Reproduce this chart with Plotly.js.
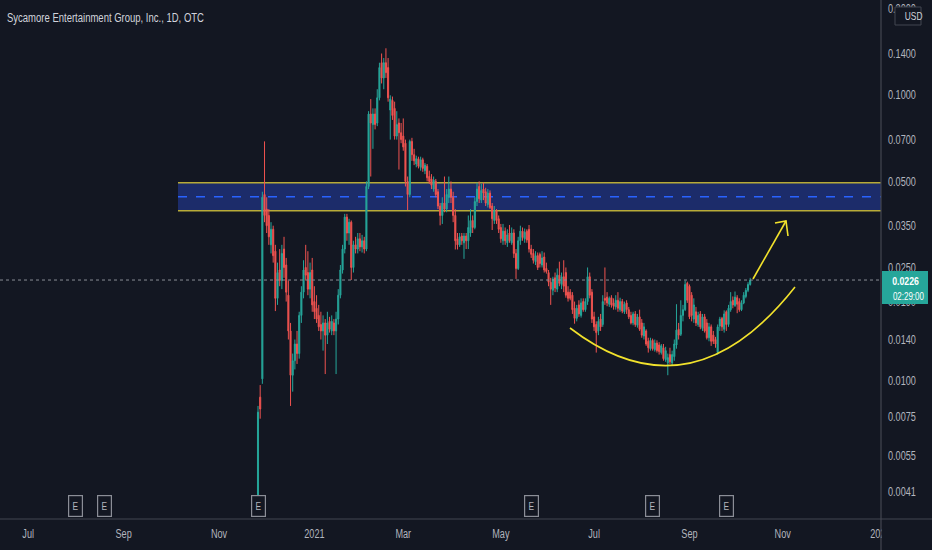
<!DOCTYPE html>
<html><head><meta charset="utf-8">
<script src="https://cdn.plot.ly/plotly-3.0.1.min.js"></script>
<style>html,body{margin:0;padding:0;background:#131722;overflow:hidden}#chart{width:932px;height:550px}</style>
</head><body><div id="chart"></div>
<script>
const startDate = '2020-11-26';
const openP = [
.0036,.0088,.0102,.0450,.0400,.0380,.0300,.0340,.0285,.0195,
.0245,.0225,.0290,.0255,.0200,.0150,.0105,.0118,.0135,.0125,
.0170,.0205,.0250,.0240,.0210,.0245,.0190,.0180,.0170,.0158,
.0150,.0160,.0145,.0162,.0150,.0160,.0150,.0165,.0200,.0245,
.0290,.0375,.0330,.0360,.0250,.0300,.0290,.0315,.0295,.0310,
.0290,.0480,.0860,.0790,.0860,.0800,.0980,.1300,.1150,.1300,
.1250,.0888,.0960,.0900,.0720,.0800,.0740,.0720,.0680,.0500,
.0450,.0690,.0620,.0575,.0600,.0560,.0595,.0545,.0565,.0520,
.0510,.0470,.0500,.0460,.0410,.0380,.0420,.0400,.0440,.0470,
.0440,.0380,.0315,.0300,.0322,.0305,.0322,.0310,.0330,.0365,
.0345,.0425,.0480,.0430,.0470,.0460,.0415,.0455,.0410,.0365,
.0395,.0370,.0345,.0310,.0335,.0305,.0330,.0305,.0330,.0280,
.0248,.0310,.0335,.0315,.0335,.0340,.0290,.0280,.0262,.0275,
.0278,.0255,.0272,.0248,.0240,.0222,.0208,.0230,.0210,.0235,
.0218,.0232,.0240,.0205,.0205,.0200,.0180,.0166,.0185,.0170,
.0190,.0178,.0190,.0232,.0205,.0168,.0158,.0150,.0165,.0158,
.0195,.0197,.0186,.0196,.0188,.0182,.0192,.0178,.0190,.0175,
.0188,.0178,.0170,.0160,.0172,.0157,.0168,.0160,.0144,.0150,
.0138,.0130,.0139,.0129,.0136,.0134,.0126,.0131,.0119,.0116,
.0124,.0116,.0122,.0134,.0152,.0146,.0170,.0178,.0220,.0215,
.0200,.0165,.0175,.0158,.0172,.0153,.0168,.0160,.0142,.0155,
.0145,.0140,.0126,.0156,.0166,.0152,.0175,.0158,.0178,.0192,
.0184,.0196,.0190,.0178,.0188,.0198,.0208,.0218];
const highP = [
.0082,.0097,.0460,.0690,.0440,.0400,.0360,.0350,.0300,.0260,
.0290,.0300,.0320,.0270,.0225,.0160,.0125,.0140,.0150,.0175,
.0215,.0265,.0300,.0285,.0260,.0270,.0215,.0200,.0185,.0175,
.0170,.0165,.0175,.0168,.0170,.0165,.0175,.0210,.0255,.0300,
.0385,.0385,.0370,.0365,.0310,.0320,.0330,.0330,.0325,.0320,
.0500,.0880,.0970,.0900,.0900,.1050,.1300,.1400,.1350,.1460,
.1350,.1000,.0990,.0950,.0880,.0830,.0800,.0830,.0700,.0520,
.0700,.0710,.0650,.0615,.0610,.0610,.0605,.0580,.0575,.0545,
.0530,.0520,.0510,.0470,.0420,.0440,.0520,.0470,.0520,.0500,
.0460,.0400,.0330,.0330,.0330,.0330,.0330,.0380,.0400,.0380,
.0440,.0495,.0500,.0490,.0495,.0475,.0470,.0465,.0420,.0410,
.0400,.0380,.0355,.0355,.0345,.0340,.0352,.0345,.0340,.0290,
.0320,.0350,.0345,.0342,.0340,.0352,.0300,.0290,.0285,.0282,
.0282,.0285,.0282,.0260,.0245,.0230,.0232,.0240,.0248,.0262,
.0240,.0265,.0250,.0215,.0210,.0205,.0190,.0185,.0192,.0195,
.0195,.0195,.0250,.0240,.0210,.0175,.0162,.0168,.0172,.0200,
.0250,.0205,.0198,.0200,.0195,.0200,.0205,.0196,.0194,.0190,
.0192,.0182,.0175,.0175,.0176,.0172,.0178,.0165,.0160,.0152,
.0142,.0142,.0141,.0140,.0139,.0137,.0135,.0135,.0132,.0125,
.0131,.0128,.0140,.0186,.0160,.0192,.0185,.0225,.0223,.0218,
.0205,.0195,.0182,.0175,.0176,.0172,.0172,.0165,.0160,.0158,
.0150,.0143,.0158,.0168,.0168,.0177,.0177,.0185,.0205,.0198,
.0206,.0200,.0195,.0192,.0205,.0212,.0222,.0230];
const lowP = [
.0035,.0074,.0098,.0360,.0330,.0300,.0280,.0260,.0176,.0185,
.0215,.0210,.0230,.0190,.0140,.0082,.0092,.0110,.0115,.0120,
.0160,.0195,.0225,.0200,.0195,.0175,.0165,.0160,.0150,.0140,
.0128,.0106,.0135,.0148,.0145,.0145,.0106,.0158,.0195,.0238,
.0280,.0310,.0300,.0226,.0240,.0280,.0280,.0285,.0282,.0280,
.0285,.0470,.0520,.0650,.0760,.0780,.0960,.1100,.1050,.1150,
.0950,.0700,.0820,.0700,.0700,.0550,.0680,.0640,.0480,.0397,
.0440,.0590,.0570,.0560,.0555,.0545,.0540,.0530,.0500,.0490,
.0470,.0460,.0440,.0400,.0351,.0355,.0390,.0390,.0420,.0420,
.0360,.0289,.0289,.0295,.0300,.0268,.0290,.0290,.0320,.0330,
.0340,.0410,.0420,.0420,.0430,.0410,.0405,.0400,.0338,.0355,
.0355,.0330,.0305,.0300,.0300,.0295,.0305,.0300,.0270,.0228,
.0245,.0300,.0310,.0305,.0305,.0282,.0270,.0258,.0255,.0245,
.0250,.0250,.0240,.0238,.0215,.0185,.0200,.0205,.0205,.0215,
.0210,.0205,.0196,.0190,.0192,.0172,.0159,.0162,.0168,.0167,
.0175,.0175,.0185,.0195,.0160,.0150,.0126,.0145,.0150,.0155,
.0185,.0183,.0182,.0181,.0178,.0178,.0175,.0175,.0173,.0172,
.0172,.0165,.0158,.0157,.0155,.0154,.0150,.0142,.0140,.0133,
.0126,.0128,.0128,.0127,.0126,.0124,.0124,.0118,.0117,.0105,
.0115,.0114,.0118,.0130,.0140,.0144,.0162,.0176,.0188,.0165,
.0162,.0160,.0156,.0155,.0152,.0150,.0148,.0140,.0138,.0133,
.0135,.0131,.0124,.0150,.0150,.0148,.0150,.0155,.0175,.0180,
.0182,.0173,.0175,.0176,.0186,.0195,.0205,.0216];
const closeP = [
.0078,.0080,.0440,.0380,.0350,.0320,.0340,.0275,.0195,.0240,
.0225,.0280,.0250,.0205,.0150,.0105,.0118,.0135,.0125,.0170,
.0205,.0245,.0235,.0210,.0240,.0185,.0175,.0165,.0155,.0150,
.0160,.0145,.0160,.0152,.0162,.0150,.0165,.0200,.0245,.0290,
.0375,.0330,.0360,.0250,.0300,.0290,.0315,.0295,.0310,.0290,
.0480,.0860,.0800,.0860,.0790,.0980,.1250,.1150,.1300,.1200,
.0980,.0970,.0850,.0720,.0790,.0740,.0700,.0660,.0500,.0450,
.0690,.0620,.0590,.0600,.0565,.0595,.0555,.0570,.0515,.0500,
.0485,.0505,.0450,.0410,.0380,.0420,.0400,.0450,.0470,.0440,
.0380,.0310,.0300,.0320,.0310,.0322,.0310,.0345,.0365,.0345,
.0425,.0470,.0435,.0465,.0455,.0420,.0455,.0405,.0370,.0395,
.0365,.0340,.0315,.0335,.0310,.0325,.0310,.0330,.0280,.0248,
.0310,.0335,.0318,.0332,.0312,.0290,.0278,.0265,.0275,.0250,
.0258,.0270,.0245,.0242,.0222,.0210,.0228,.0212,.0235,.0220,
.0232,.0215,.0200,.0195,.0195,.0178,.0166,.0180,.0172,.0188,
.0178,.0190,.0232,.0200,.0165,.0155,.0148,.0162,.0155,.0190,
.0192,.0188,.0195,.0185,.0183,.0192,.0180,.0190,.0176,.0186,
.0178,.0168,.0160,.0172,.0158,.0168,.0152,.0145,.0155,.0135,
.0131,.0139,.0130,.0136,.0128,.0127,.0133,.0120,.0128,.0121,
.0117,.0124,.0135,.0151,.0145,.0170,.0178,.0218,.0192,.0168,
.0170,.0185,.0160,.0170,.0155,.0168,.0150,.0142,.0155,.0138,
.0138,.0135,.0155,.0165,.0155,.0172,.0158,.0180,.0190,.0185,
.0197,.0186,.0178,.0188,.0200,.0208,.0218,.0226];

const yTickVals = [0.2, 0.14, 0.1, 0.07, 0.05, 0.035, 0.025, 0.019, 0.014, 0.01, 0.0075, 0.0055, 0.0041];
const yTickText = ['0.2000','0.1400','0.1000','0.0700','0.0500','0.0350','0.0250','0.0190','0.0140','0.0100','0.0075','0.0055','0.0041'];
const xTickVals = ['2020-07-01','2020-09-01','2020-11-02','2021-01-01','2021-03-01','2021-05-03','2021-07-01','2021-09-01','2021-11-01','2022-01-03'];
const xTickText = ['Jul','Sep','Nov','2021','Mar','May','Jul','Sep','Nov','2022'];
const earningsDates = ['2020-07-31','2020-08-19','2020-11-26','2021-05-21','2021-08-09','2021-09-24'];
const zoneTop = 0.0495, zoneMid = 0.0442, zoneBottom = 0.0395;
const lastPrice = 0.0226;
const lastPriceText = '0.0226';
const countdownText = '02:29:00';
const chartTitle = 'Sycamore Entertainment Group, Inc., 1D, OTC';

function tradingDays(start, n) {
  const out = []; const d = new Date(start + 'T00:00:00Z');
  while (out.length < n) {
    const wd = d.getUTCDay();
    if (wd !== 0 && wd !== 6) out.push(d.toISOString().slice(0, 10));
    d.setUTCDate(d.getUTCDate() + 1);
  }
  return out;
}
const dates = tradingDays(startDate, closeP.length);

const W = 932, H = 550, PW = 881, PH = 519;
const px = v => v / PW;
const py = v => 1 - v / PH;
const BG = '#131722';
const FONT = 'Liberation Sans, Arial, sans-serif';
const TEXT_SQUEEZE = 0.76;

const trace = {
  type: 'candlestick', x: dates, open: openP, high: highP, low: lowP, close: closeP,
  increasing: {line: {color: '#26a69a', width: 1}, fillcolor: '#26a69a'},
  decreasing: {line: {color: '#ef5350', width: 1}, fillcolor: '#ef5350'},
  whiskerwidth: 0, hoverinfo: 'skip'
};

const shapes = [
  {type: 'rect', layer: 'below', xref: 'paper', yref: 'y', x0: px(178), x1: 1, y0: zoneBottom, y1: zoneTop, fillcolor: '#1c2c6a', line: {width: 0}},
  {type: 'line', layer: 'below', xref: 'paper', yref: 'y', x0: px(178), x1: 1, y0: zoneTop, y1: zoneTop, line: {color: '#b8ab38', width: 1.5}},
  {type: 'line', layer: 'below', xref: 'paper', yref: 'y', x0: px(178), x1: 1, y0: zoneBottom, y1: zoneBottom, line: {color: '#b8ab38', width: 1.5}},
  {type: 'line', layer: 'below', xref: 'paper', yref: 'y', x0: px(178), x1: 1, y0: zoneMid, y1: zoneMid, line: {color: '#2962ff', width: 1.5, dash: 'dash'}},
  {type: 'line', layer: 'above', xref: 'paper', yref: 'y', x0: 0, x1: 1, y0: lastPrice, y1: lastPrice, line: {color: '#8a8d96', width: 1, dash: 'dot'}},
  {type: 'path', layer: 'above', xref: 'paper', yref: 'paper',
   path: `M ${px(570)} ${py(328)} Q ${px(690)} ${py(420)} ${px(795)} ${py(287)}`, line: {color: '#f2e22c', width: 1.6}},
  {type: 'path', layer: 'above', xref: 'paper', yref: 'paper',
   path: `M ${px(753)} ${py(279)} L ${px(786)} ${py(221)}`, line: {color: '#f2e22c', width: 1.6}},
  {type: 'path', layer: 'above', xref: 'paper', yref: 'paper',
   path: `M ${px(775)} ${py(223)} L ${px(786)} ${py(221)} L ${px(788)} ${py(236)}`, line: {color: '#f2e22c', width: 1.6}},
  {type: 'line', layer: 'above', xref: 'paper', yref: 'paper', x0: 0, x1: W / PW, y0: 0, y1: 0, line: {color: '#434651', width: 1.2}},
  {type: 'rect', layer: 'above', xref: 'paper', yref: 'paper', x0: 1.0008, x1: W / PW, y0: 1 - H / PH, y1: -0.002, fillcolor: BG, line: {width: 0}},
  {type: 'line', layer: 'above', xref: 'paper', yref: 'paper', x0: 1, x1: 1, y0: 1 - H / PH, y1: 1, line: {color: '#434651', width: 1.2}},
  {type: 'rect', layer: 'above', xref: 'paper', yref: 'paper', x0: px(895), x1: px(921), y0: py(25), y1: py(7), fillcolor: BG, line: {color: '#434651', width: 1}},
  {type: 'rect', layer: 'above', xref: 'paper', yref: 'paper', x0: px(882), x1: px(928), y0: py(304), y1: py(271), fillcolor: '#26a69a', line: {width: 0}}
];

const annotations = [
  {xref: 'paper', yref: 'paper', x: px(900), y: py(16), text: 'USD', showarrow: false, xanchor: 'left', yanchor: 'middle', font: {size: 11, color: '#d1d4dc', family: FONT}},
  {xref: 'paper', yref: 'paper', x: px(886), y: py(281), text: '<b>' + lastPriceText + '</b>', showarrow: false, xanchor: 'left', yanchor: 'middle', font: {size: 11.5, color: '#ffffff', family: FONT}},
  {xref: 'paper', yref: 'paper', x: px(886), y: py(296), text: countdownText, showarrow: false, xanchor: 'left', yanchor: 'middle', font: {size: 10.5, color: '#ffffff', family: FONT}}
];
earningsDates.forEach(d => annotations.push({
  xref: 'x', yref: 'paper', x: d, y: py(505.5), text: 'E', showarrow: false, xanchor: 'center', yanchor: 'middle',
  width: 10, height: 17, borderpad: 1.2, bordercolor: '#8b8e97', borderwidth: 1.2, bgcolor: BG,
  font: {size: 11, color: '#b2b5be', family: FONT}
}));

const layout = {
  width: W, height: H, paper_bgcolor: BG, plot_bgcolor: BG,
  margin: {l: 0, r: W - PW, t: 0, b: H - PH},
  showlegend: false, hovermode: false, dragmode: false,
  font: {family: FONT, color: '#b2b5be', size: 12},
  title: {text: chartTitle, x: 7 / W, xanchor: 'left', y: 1 - 18 / H, yanchor: 'middle', font: {family: FONT, size: 12.5, color: '#d1d4dc'}},
  xaxis: {
    type: 'date', range: ['2020-06-12', '2022-01-03 08:00'],
    rangebreaks: [{bounds: ['sat', 'mon']}], rangeslider: {visible: false},
    tickvals: xTickVals, ticktext: xTickText, ticks: '', showgrid: false, zeroline: false, showline: false,
    tickfont: {size: 12, color: '#b2b5be', family: FONT}, ticklabelstandoff: 6
  },
  yaxis: {
    type: 'log', side: 'right', range: [-2.4815, -0.6668],
    tickvals: yTickVals, ticktext: yTickText, ticks: '', showgrid: false, zeroline: false, showline: false,
    tickfont: {size: 12, color: '#b2b5be', family: FONT}, ticklabelstandoff: 6
  },
  shapes: shapes, annotations: annotations
};

Plotly.newPlot('chart', [trace], layout, {staticPlot: true, displayModeBar: false}).then(gd => {
  // the reference screenshot uses a condensed face: squeeze glyphs horizontally
  gd.querySelectorAll('svg text').forEach(t => {
    const len = t.getComputedTextLength();
    if (len > 0) {
      t.setAttribute('textLength', (len * TEXT_SQUEEZE).toFixed(2));
      t.setAttribute('lengthAdjust', 'spacingAndGlyphs');
    }
  });
});
</script>
</body></html>
